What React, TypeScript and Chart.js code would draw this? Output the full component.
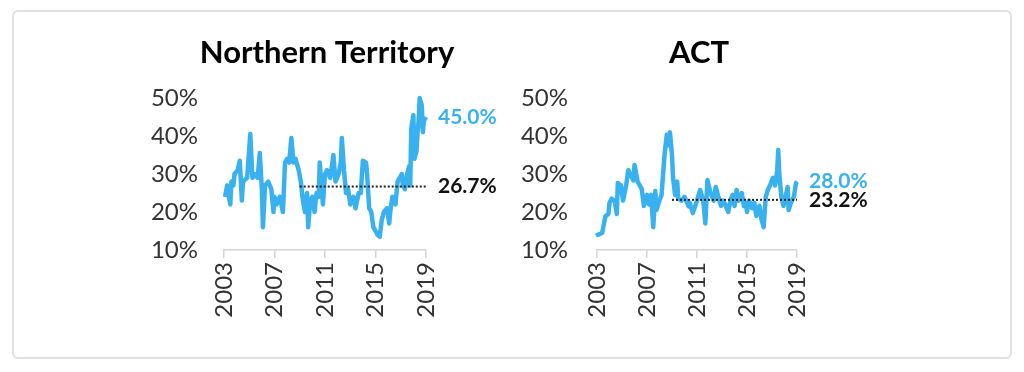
import React, { useEffect, useRef } from "react";
import { Chart, registerables } from "chart.js";

Chart.register(...registerables);

// ---- data (month offsets from Jan 2003, percentage values) ----
const startYear = 2003;
const endYear = 2019;
const xTickYears = [2003, 2007, 2011, 2015, 2019];
const yTickValues = [10, 20, 30, 40, 50];

const ntMonths = [1, 3, 4, 6, 7, 9, 10, 13, 15, 17, 18, 22, 25, 27, 29, 32, 34, 36, 37, 39, 42, 45, 47, 48, 50, 53, 56, 58, 60, 62, 64, 66, 68, 71, 73, 75, 77, 79, 80, 82, 84, 86, 88, 90, 91, 94, 96, 98, 101, 104, 106, 109, 111, 112, 114, 116, 118, 120, 123, 125, 128, 130, 132, 135, 136, 138, 140, 142, 144, 146, 148, 150, 152, 155, 157, 158, 160, 163, 165, 167, 169, 170, 172, 174, 176, 177, 178, 180, 181, 183, 184, 185, 186, 188, 189, 190, 192];
const ntValues = [24, 27, 25, 22, 28, 27, 30, 31, 33.5, 23, 28, 29, 40.5, 29, 30, 29, 35.5, 26, 16, 27, 28, 26, 20, 24, 22, 24, 20, 33, 34, 33, 39.5, 33, 34, 31, 28, 23, 20, 25, 16, 23, 24, 20, 25, 24, 33, 22, 30, 31, 29, 35, 28, 30, 33, 39.5, 31, 25, 26, 22, 24, 21, 25, 25, 33.5, 33, 30, 21, 20, 16, 15, 14, 13.5, 18, 20, 21, 17, 20, 24, 22, 28, 29, 30, 27, 26, 30, 32, 27, 42, 45.5, 34, 36, 41, 44, 50, 48, 41, 44, 45];
const ntAverage = 26.7;
const ntLatest = 45.0;

const actMonths = [0, 1, 5, 6, 8, 11, 12, 14, 17, 19, 20, 23, 25, 28, 30, 32, 35, 36, 39, 41, 43, 45, 48, 50, 52, 54, 56, 57, 60, 62, 64, 65, 67, 68, 70, 72, 73, 75, 77, 78, 81, 84, 88, 89, 92, 96, 99, 102, 104, 106, 109, 112, 114, 116, 119, 121, 123, 126, 128, 130, 132, 134, 136, 139, 141, 143, 144, 146, 149, 151, 153, 156, 158, 160, 162, 164, 167, 169, 171, 173, 174, 175, 177, 179, 181, 183, 184, 186, 189, 191, 192];
const actValues = [14.5, 14, 14.5, 16, 18.8, 19.5, 22.4, 23.5, 23, 19.5, 27.6, 27, 23, 27, 31, 30, 28.3, 32.4, 28, 27, 26, 21.6, 24.5, 22, 24.5, 16, 25.5, 20.5, 23, 24.5, 32, 35.5, 40.3, 37.5, 41, 35, 29, 24.5, 28, 23.5, 23, 24, 21.5, 22.4, 19.7, 23, 25.8, 23, 17, 28.4, 25, 23, 26.6, 24.5, 21.6, 23, 22, 20, 23, 24.5, 21.6, 25.8, 23, 25, 21.6, 22.4, 20, 23, 21, 22.4, 19, 21.6, 18, 16, 24, 25.8, 27.6, 29, 27, 31, 36.3, 30, 24, 21.6, 24, 26.6, 20.5, 22.4, 24, 27.6, 28];
const actAverage = 23.2;
const actLatest = 28.0;
const averageFromYear = 2009;

const LINE_BLUE = "#38B1EE";
const FONT = "Lato, 'Open Sans', sans-serif";

type PanelProps = {
  title: string;
  months: number[];
  values: number[];
  average: number;
  latest: number;
  left: number;
  width: number;
  yAxisWidth: number;
  rightPad: number;
  yPad: number;
};

function Panel(p: PanelProps) {
  const ref = useRef<HTMLCanvasElement | null>(null);
  useEffect(() => {
    if (!ref.current) return;
    const decor = {
      id: "decor",
      afterDraw(chart: any) {
        const { ctx, chartArea, scales } = chart;
        ctx.save();
        ctx.fillStyle = "#000";
        ctx.font = `bold 31px ${FONT}`;
        ctx.textAlign = "center";
        ctx.textBaseline = "alphabetic";
        ctx.fillText(p.title, (chartArea.left + chartArea.right) / 2 + 2, 63);
        ctx.font = `bold 21px ${FONT}`;
        ctx.textAlign = "left";
        ctx.textBaseline = "middle";
        const lx = chartArea.right + 12;
        ctx.fillStyle = LINE_BLUE;
        ctx.fillText(p.latest.toFixed(1) + "%", lx, scales.y.getPixelForValue(p.latest));
        ctx.fillStyle = "#111";
        ctx.fillText(p.average.toFixed(1) + "%", lx, scales.y.getPixelForValue(p.average));
        ctx.restore();
      },
    };
    const chart = new Chart(ref.current, {
      type: "line",
      data: {
        datasets: [
          {
            data: [
              { x: averageFromYear, y: p.average },
              { x: endYear, y: p.average },
            ],
            borderColor: "#222",
            borderWidth: 2,
            borderDash: [2, 2],
            pointRadius: 0,
            order: 0,
          },
          {
            data: p.months.map((m, i) => ({ x: startYear + m / 12, y: p.values[i] })),
            borderColor: LINE_BLUE,
            borderWidth: 4.5,
            borderJoinStyle: "round",
            pointRadius: 0,
            tension: 0,
            clip: 10,
            order: 1,
          },
        ],
      } as any,
      options: {
        animation: false,
        responsive: false,
        events: [],
        layout: { padding: { left: 0, right: p.rightPad, top: 98, bottom: 0 } },
        plugins: { legend: { display: false }, tooltip: { enabled: false }, title: { display: false } },
        scales: {
          x: {
            type: "linear",
            min: startYear,
            max: endYear,
            afterBuildTicks: (s: any) => {
              s.ticks = xTickYears.map((v) => ({ value: v }));
            },
            afterFit: (s: any) => {
              s.height = 122;
            },
            ticks: {
              callback: (v: any) => String(v),
              minRotation: 90,
              maxRotation: 90,
              autoSkip: false,
              padding: 4,
              color: "#333",
              font: { family: FONT, size: 24 },
            },
            grid: { display: true, drawOnChartArea: false, drawTicks: true, tickLength: 8, color: "#d4d4d4", lineWidth: 1.5 },
            border: { display: true, color: "#d4d4d4", width: 1.5 },
          },
          y: {
            type: "linear",
            min: 10,
            max: 50,
            afterBuildTicks: (s: any) => {
              s.ticks = yTickValues.map((v) => ({ value: v }));
            },
            afterFit: (s: any) => {
              s.width = p.yAxisWidth;
            },
            ticks: {
              callback: (v: any) => v + "%",
              padding: p.yPad,
              color: "#333",
              font: { family: FONT, size: 24 },
            },
            grid: { display: false, drawTicks: false },
            border: { display: false },
          },
        },
      } as any,
      plugins: [decor],
    });
    return () => chart.destroy();
  }, []);
  return (
    <canvas
      ref={ref}
      width={p.width}
      height={372}
      style={{ position: "absolute", left: p.left, top: 0, width: p.width, height: 372 }}
    />
  );
}

export default function App() {
  return (
    <div style={{ position: "absolute", left: 0, top: 0, width: 1024, height: 372, background: "#fff", overflow: "hidden" }}>
      <div
        style={{
          position: "absolute",
          left: 12,
          top: 10,
          width: 996,
          height: 345,
          border: "2px solid #e2e0de",
          borderRadius: 6,
        }}
      />
      <Panel
        title="Northern Territory"
        months={ntMonths}
        values={ntValues}
        average={ntAverage}
        latest={ntLatest}
        left={100}
        width={410}
        yAxisWidth={124}
        rightPad={84}
        yPad={26}
      />
      <Panel
        title="ACT"
        months={actMonths}
        values={actValues}
        average={actAverage}
        latest={actLatest}
        left={510}
        width={390}
        yAxisWidth={87}
        rightPad={103}
        yPad={29}
      />
    </div>
  );
}
